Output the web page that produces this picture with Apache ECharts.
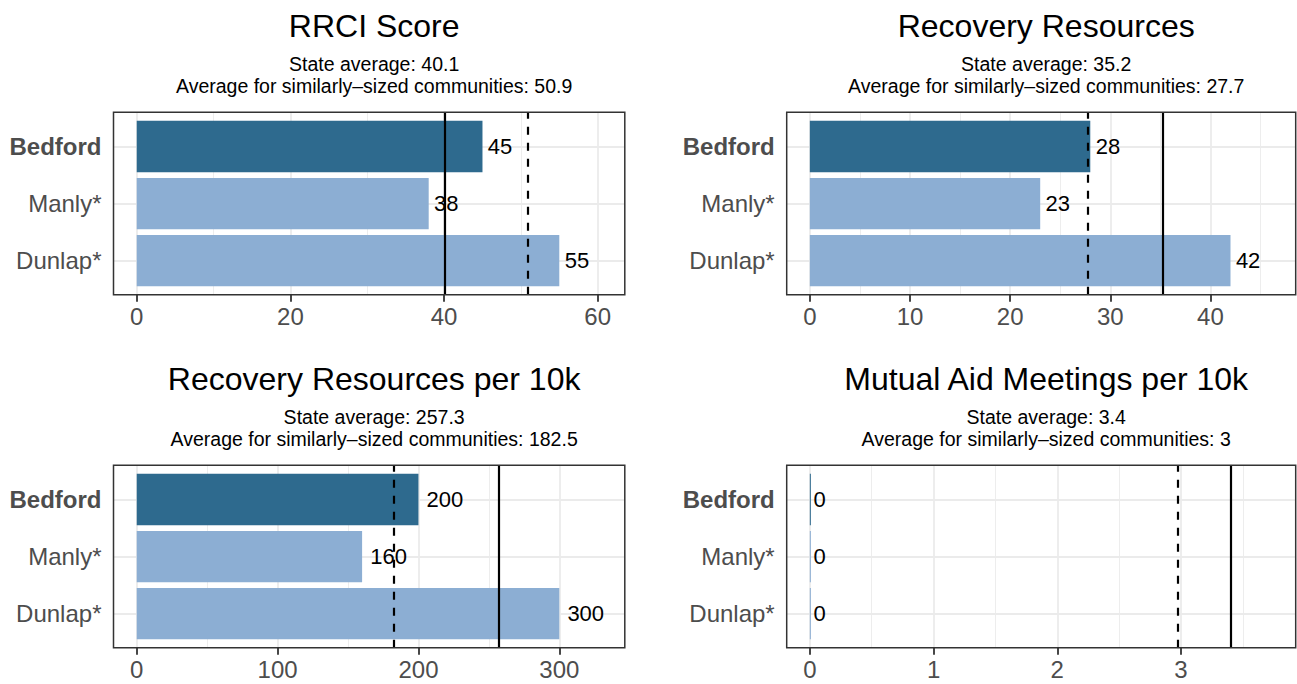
<!DOCTYPE html>
<html>
<head>
<meta charset="utf-8">
<script src="https://cdn.jsdelivr.net/npm/echarts@6/dist/echarts.min.js"></script>
<style>
  html, body { margin: 0; padding: 0; background: #fff; }
  #chart { width: 1297px; height: 684px; }
</style>
</head>
<body>
<div id="chart"></div>
<script>
// ---------- data ----------
const categories = ['Bedford', 'Manly*', 'Dunlap*'];
const panelTitles = ['RRCI Score', 'Recovery Resources', 'Recovery Resources per 10k', 'Mutual Aid Meetings per 10k'];
const rrciValues = [45, 38, 55];
const resourcesValues = [28, 23, 42];
const perTenKValues = [200, 160, 300];
const meetingsValues = [0, 0, 0];
const stateAverages = [40.1, 35.2, 257.3, 3.4];
const similarAverages = [50.9, 27.7, 182.5, 2.97];
const majorTicks = [[0, 20, 40, 60], [0, 10, 20, 30, 40], [0, 100, 200, 300], [0, 1, 2, 3]];
const minorTicks = [[10, 30, 50], [5, 15, 25, 35, 45], [50, 150, 250], [0.5, 1.5, 2.5, 3.5]];
const panelValues = [rrciValues, resourcesValues, perTenKValues, meetingsValues];

// ---------- layout / style ----------
const boxes = [
  { left: 113.5, top: 112.3, width: 511.3, height: 182.5 },
  { left: 786.7, top: 112.3, width: 509.0, height: 182.5 },
  { left: 113.5, top: 465.3, width: 511.3, height: 182.5 },
  { left: 786.7, top: 465.3, width: 509.0, height: 182.5 }
];
const DARK = '#2E6A8E';
const LIGHT = '#8CAED3';
const GRID = '#EBEBEB';
const FONT = 'Liberation Sans, Arial, Helvetica, sans-serif';
const VALUE_FONT = 22;

function fmt(v) { return String(Number(v.toFixed(1))); }

const option = {
  animation: false,
  textStyle: { fontFamily: FONT },
  title: [],
  grid: [],
  xAxis: [],
  yAxis: [],
  series: []
};

boxes.forEach((b, p) => {
  const vals = panelValues[p];
  const L = 1.1 * Math.max(...vals, stateAverages[p], similarAverages[p]);
  const xmin = -0.05 * L, xmax = 1.05 * L;
  const unit = b.height / 3.2;

  option.title.push({
    text: panelTitles[p],
    subtext: 'State average: ' + fmt(stateAverages[p]) + '\nAverage for similarly\u2013sized communities: ' + fmt(similarAverages[p]),
    left: b.left + b.width / 2,
    top: b.top - 107.5,
    textAlign: 'center',
    itemGap: 11,
    textStyle: { fontSize: 32, fontWeight: 'normal', color: '#000', fontFamily: FONT },
    subtextStyle: { fontSize: 19.5, color: '#000', lineHeight: 22, fontFamily: FONT }
  });

  // outer grid: full panel box
  const go = option.grid.length;
  option.grid.push({ left: b.left, top: b.top, width: b.width, height: b.height,
    show: true, borderColor: '#333333', borderWidth: 1.5, backgroundColor: 'transparent', z: 10, containLabel: false });
  // inner grid: categories area (ggplot 0.6 expansion)
  const gi = option.grid.length;
  option.grid.push({ left: b.left, top: b.top + 0.1 * unit, width: b.width, height: b.height - 0.2 * unit, show: false });

  const xo = option.xAxis.length;
  option.xAxis.push({
    type: 'value', gridIndex: go, min: xmin, max: xmax,
    axisLine: { show: false },
    splitLine: { show: false },
    axisTick: { show: true, customValues: majorTicks[p], length: 7, lineStyle: { color: '#333333', width: 1.8 } },
    axisLabel: { show: true, customValues: majorTicks[p], fontSize: 24, color: '#4D4D4D', margin: 10, fontFamily: FONT }
  });
  const xi = option.xAxis.length;
  option.xAxis.push({
    type: 'value', gridIndex: gi, min: xmin, max: xmax, show: false,
    splitLine: { show: false }
  });
  const yo = option.yAxis.length;
  option.yAxis.push({ type: 'value', gridIndex: go, min: 0, max: 1, show: false, splitLine: { show: false } });
  const yi = option.yAxis.length;
  option.yAxis.push({
    type: 'category', gridIndex: gi, data: categories, inverse: true,
    axisLine: { show: false },
    splitLine: { show: false },
    axisTick: { show: true, alignWithLabel: true, length: 7, lineStyle: { color: '#333333', width: 1.8 } },
    axisLabel: {
      fontSize: 24, color: '#4D4D4D', margin: 12, fontFamily: FONT,
      formatter: v => v === categories[0] ? '{b|' + v + '}' : v,
      rich: { b: { fontWeight: 'bold', fontSize: 24, color: '#4D4D4D', fontFamily: FONT } }
    }
  });

  // bars (label offset proportional to text width, like ggplot hjust)
  option.series.push({
    type: 'bar', xAxisIndex: xi, yAxisIndex: yi,
    barWidth: '90%', barMinHeight: 1, z: 2,
    data: vals.map((v, i) => ({
      value: v,
      itemStyle: { color: i === 0 ? DARK : LIGHT },
      label: { distance: 0.22 * String(v).length * 0.556 * VALUE_FONT }
    })),
    label: { show: true, position: 'right', fontSize: VALUE_FONT, color: '#000', fontFamily: FONT, formatter: '{c}' },
    markLine: {
      silent: true, z: 1, symbol: 'none', label: { show: false },
      lineStyle: { color: GRID, width: 1.8, type: 'solid' },
      data: categories.map(c => ({ yAxis: c }))
    }
  });
  // vertical grid lines
  option.series.push({
    type: 'line', xAxisIndex: xo, yAxisIndex: yo, data: [], z: 1,
    markLine: {
      silent: true, z: 1, symbol: 'none', label: { show: false },
      data: majorTicks[p].map(t => ({ xAxis: t, lineStyle: { color: GRID, width: 1.8, type: 'solid' } }))
        .concat(minorTicks[p].map(t => ({ xAxis: t, lineStyle: { color: GRID, width: 0.9, type: 'solid' } })))
    }
  });
  // average reference lines
  option.series.push({
    type: 'line', xAxisIndex: xo, yAxisIndex: yo, data: [], z: 5,
    markLine: {
      silent: true, z: 5, symbol: 'none', label: { show: false },
      data: [
        { xAxis: stateAverages[p], lineStyle: { color: '#000', width: 2.2, type: 'solid' } },
        { xAxis: similarAverages[p], lineStyle: { color: '#000', width: 2.2, type: [8, 8] } }
      ]
    }
  });
});

const chart = echarts.init(document.getElementById('chart'), null, { renderer: 'svg' });
chart.setOption(option);
</script>
</body>
</html>
